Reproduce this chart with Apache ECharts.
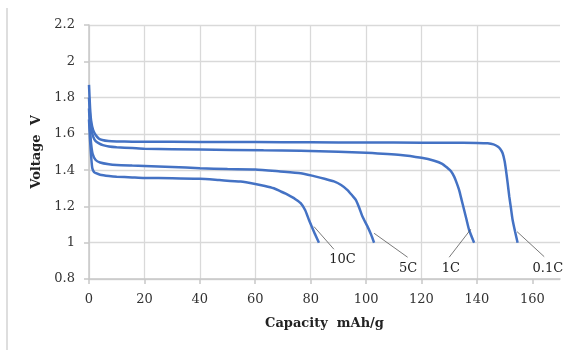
<!DOCTYPE html>
<html>
<head>
<meta charset="utf-8">
<script src="https://cdn.jsdelivr.net/npm/echarts@6/dist/echarts.min.js"></script>
<style>html,body{margin:0;padding:0;background:#fff}#c{width:570px;height:350px}</style>
</head>
<body>
<div id="c"></div>
<script>
// Discharge curves: [capacity mAh/g, voltage V]
const curve01C = [[0,1.87],[0.4,1.74],[0.8,1.67],[1.5,1.62],[2.4,1.594],[3.5,1.575],[4.8,1.566],[7,1.56],[10,1.558],[15.6,1.557],[30,1.556],[50,1.555],[70,1.554],[90,1.553],[110,1.552],[130,1.551],[140,1.55],[143.9,1.548],[146,1.542],[147.5,1.53],[148.5,1.515],[149.3,1.493],[150,1.45],[150.5,1.40],[151.1,1.33],[151.7,1.254],[152.3,1.19],[152.9,1.125],[153.8,1.06],[154.7,1.0]];
const curve1C = [[0,1.80],[0.4,1.69],[0.8,1.63],[1.5,1.585],[2.4,1.56],[3.6,1.548],[5,1.538],[7.2,1.53],[10,1.526],[15.6,1.522],[20,1.518],[40,1.514],[63,1.509],[76.4,1.507],[90,1.502],[100,1.496],[112.5,1.484],[120,1.468],[124.6,1.452],[127.5,1.435],[129.4,1.412],[130.6,1.395],[131.8,1.364],[132.7,1.33],[133.6,1.29],[134.5,1.235],[135.4,1.18],[136.3,1.125],[137.2,1.07],[139,1.0]];
const curve5C = [[0,1.74],[0.4,1.62],[0.8,1.54],[1.3,1.49],[2.4,1.456],[4,1.442],[7.2,1.432],[10,1.428],[15.6,1.425],[20,1.423],[30,1.418],[40,1.41],[50,1.406],[60,1.404],[69,1.393],[76.4,1.383],[81.2,1.367],[85,1.353],[88.4,1.338],[91,1.318],[93.3,1.29],[95,1.26],[96.3,1.236],[97.6,1.19],[98.7,1.144],[100.5,1.09],[101.8,1.045],[102.9,1.0]];
const curve10C = [[0,1.68],[0.4,1.56],[0.8,1.47],[1.2,1.41],[1.8,1.39],[2.5,1.383],[4,1.375],[7.2,1.368],[10,1.364],[15.6,1.36],[20,1.357],[30,1.356],[40,1.352],[47,1.345],[54.7,1.337],[60,1.324],[63.5,1.313],[66.7,1.30],[69,1.284],[71,1.27],[72.8,1.255],[74.5,1.24],[76.4,1.218],[78,1.18],[79.4,1.125],[80.5,1.085],[81.5,1.05],[83,1.0]];

const rateNames = ['10C','5C','1C','0.1C'];
const leaderFrom = [[81.2,1.089],[102.9,1.052],[137.8,1.074],[154.5,1.061]];
const leaderTo = [[88.4,0.964],[115.0,0.92],[130.0,0.92],[164.3,0.923]];
const labelAt = [[91.5,0.905],[115.2,0.859],[130.6,0.859],[165.6,0.859]];

const xTicks = [0,20,40,60,80,100,120,140,160];
const yTicks = [0.8,1,1.2,1.4,1.6,1.8,2,2.2];

const FONT = 'DejaVu Serif';
const curves = [curve10C, curve5C, curve1C, curve01C];

const series = curves.map((d, i) => ({
  type: 'line',
  name: rateNames[i],
  data: d,
  showSymbol: false,
  symbol: 'none',
  smooth: 0.2,
  lineStyle: { color: '#4472C4', width: 2.5 },
  z: 3,
  markLine: {
    silent: true,
    symbol: ['none', 'none'],
    label: { show: false },
    lineStyle: { color: '#404040', width: 0.7, type: 'solid' },
    data: [[{ coord: leaderFrom[i] }, { coord: leaderTo[i] }]]
  },
  markPoint: {
    silent: true,
    symbol: 'circle',
    symbolSize: 0,
    label: {
      show: true, position: 'inside', formatter: rateNames[i],
      fontFamily: FONT, fontSize: 13, color: '#222'
    },
    data: [{ coord: labelAt[i] }]
  }
}));

const chart = echarts.init(document.getElementById('c'), null, { renderer: 'canvas' });
chart.setOption({
  animation: false,
  backgroundColor: '#fff',
  grid: { left: 89, right: 10, top: 25, bottom: 71, containLabel: false },
  xAxis: {
    type: 'value', min: 0, max: 170, interval: 20,
    name: 'Capacity  mAh/g', nameLocation: 'middle', nameGap: 38,
    nameTextStyle: { fontFamily: FONT, fontSize: 13, fontWeight: 'bold', color: '#222' },
    axisLine: { show: true, lineStyle: { color: '#c8c8c8', width: 1.5 } },
    axisTick: { show: true, length: 5, inside: false, customValues: xTicks, lineStyle: { color: '#c8c8c8', width: 1.5 } },
    axisLabel: { customValues: xTicks, margin: 14, fontFamily: FONT, fontSize: 13, color: '#333' },
    splitLine: { show: true, showMaxLine: false, lineStyle: { color: '#d9d9d9', width: 1.3 } }
  },
  yAxis: {
    type: 'value', min: 0.8, max: 2.2, interval: 0.2,
    name: 'Voltage  V', nameLocation: 'middle', nameGap: 46, nameRotate: 90,
    nameTextStyle: { fontFamily: FONT, fontSize: 13, fontWeight: 'bold', color: '#222' },
    axisLine: { show: true, lineStyle: { color: '#c8c8c8', width: 1.5 } },
    axisTick: { show: true, length: 5, inside: false, lineStyle: { color: '#c8c8c8', width: 1.5 } },
    axisLabel: { margin: 14, fontFamily: FONT, fontSize: 13, color: '#333',
      formatter: v => String(Math.round(v * 10) / 10) },
    splitLine: { show: true, lineStyle: { color: '#d9d9d9', width: 1.3 } }
  },
  graphic: [{
    type: 'line', silent: true,
    shape: { x1: 7, y1: 8, x2: 7, y2: 350 },
    style: { stroke: '#c8c8c8', lineWidth: 1.2 }
  }],
  series: series
});
</script>
</body>
</html>
